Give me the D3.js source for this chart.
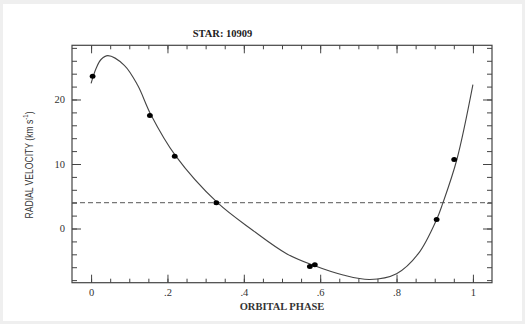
<!DOCTYPE html>
<html>
<head>
<meta charset="utf-8">
<script src="https://cdn.jsdelivr.net/npm/d3@7"></script>
<style>
    html, body { margin: 0; padding: 0; background: #efefef; }
    svg { display: block; }
</style>
</head>
<body>
<svg id="rvplot" width="525" height="324"></svg>
<script>
"use strict";

// Observed radial velocities (phase, km/s)
const obsPhase = [0.004, 0.154, 0.219, 0.328, 0.573, 0.586, 0.905, 0.951];
const obsVel   = [23.6, 17.5, 11.2, 4.0, -5.9, -5.6, 1.4, 10.7];

// Fitted orbit curve
const fitPhase = [0.0, 0.013, 0.026, 0.044, 0.087, 0.122, 0.157, 0.221, 0.331,
                  0.424, 0.512, 0.582, 0.660, 0.730, 0.800, 0.857, 0.905, 0.921, 0.958, 1.0];
const fitVel   = [22.5, 24.8, 26.2, 26.8, 25.3, 22.2, 17.6, 11.3, 4.0,
                  -0.3, -3.9, -5.7, -7.2, -7.9, -7.0, -3.9, 1.4, 3.9, 10.7, 22.3];

// Systemic velocity (dashed line)
const gammaVel = 4.0;

const xTickLabels = ["0", ".2", ".4", ".6", ".8", "1"];
const xMajor = [0, 0.2, 0.4, 0.6, 0.8, 1.0];
const yMajor = [0, 10, 20];
const title = "STAR: 10909";

let svg = d3.select("#rvplot");

// page frame
svg.append("rect")
    .attr("x", 3).attr("y", 4)
    .attr("width", 519).attr("height", 317)
    .attr("fill", "#fff");

// plot box
const pL = 72, pR = 492, pT = 45.3, pB = 282.7;

const x = d3.scaleLinear().domain([-0.05, 1.05]).range([pL, pR]);
const y = d3.scaleLinear().domain([-8.4, 28.4]).range([pB, pT]);

const xMinor = d3.range(0, 21).map((i) => i * 0.05);
const yMinor = d3.range(-4, 15).map((i) => i * 2);

function styleAxis(g) {
    g.select(".domain").remove();
    g.selectAll(".tick line").attr("stroke", "#444").attr("stroke-width", 1);
    g.selectAll("text")
        .attr("font-family", "'Liberation Serif', serif")
        .attr("font-size", 10.5)
        .attr("fill", "#333");
}

// bottom axis: minor then major with labels
svg.append("g")
    .attr("transform", `translate(0,${pB})`)
    .call(d3.axisBottom(x).tickValues(xMinor).tickSize(-4).tickFormat(""))
    .call(styleAxis);
svg.append("g")
    .attr("transform", `translate(0,${pB})`)
    .call(d3.axisBottom(x).tickValues(xMajor).tickSize(-8).tickPadding(6)
        .tickFormat((d, i) => xTickLabels[i]))
    .call(styleAxis);

// top axis
svg.append("g")
    .attr("transform", `translate(0,${pT})`)
    .call(d3.axisTop(x).tickValues(xMinor).tickSize(-4).tickFormat(""))
    .call(styleAxis);
svg.append("g")
    .attr("transform", `translate(0,${pT})`)
    .call(d3.axisTop(x).tickValues(xMajor).tickSize(-8).tickFormat(""))
    .call(styleAxis);

// left axis
svg.append("g")
    .attr("transform", `translate(${pL},0)`)
    .call(d3.axisLeft(y).tickValues(yMinor).tickSize(-5).tickFormat(""))
    .call(styleAxis);
svg.append("g")
    .attr("transform", `translate(${pL},0)`)
    .call(d3.axisLeft(y).tickValues(yMajor).tickSize(-9).tickPadding(7)
        .tickFormat(d3.format("d")))
    .call(styleAxis);

// right axis
svg.append("g")
    .attr("transform", `translate(${pR},0)`)
    .call(d3.axisRight(y).tickValues(yMinor).tickSize(-5).tickFormat(""))
    .call(styleAxis);
svg.append("g")
    .attr("transform", `translate(${pR},0)`)
    .call(d3.axisRight(y).tickValues(yMajor).tickSize(-9).tickFormat(""))
    .call(styleAxis);

// frame
svg.append("rect")
    .attr("x", pL).attr("y", pT)
    .attr("width", pR - pL).attr("height", pB - pT)
    .attr("fill", "none")
    .attr("stroke", "#444")
    .attr("stroke-width", 1.2);

// systemic velocity line
svg.append("line")
    .attr("x1", pL).attr("x2", pR)
    .attr("y1", y(gammaVel)).attr("y2", y(gammaVel))
    .attr("stroke", "#555")
    .attr("stroke-width", 1)
    .attr("stroke-dasharray", "5,3");

// fitted curve
let fit = fitPhase.map((p, i) => [p, fitVel[i]]);
svg.append("path")
    .datum(fit)
    .attr("fill", "none")
    .attr("stroke", "#444")
    .attr("stroke-width", 1.1)
    .attr("d", d3.line()
        .x((d) => x(d[0]))
        .y((d) => y(d[1]))
        .curve(d3.curveCatmullRom.alpha(0.5)));

// observations
let obs = obsPhase.map((p, i) => [p, obsVel[i]]);
svg.append("g")
    .selectAll("ellipse")
    .data(obs)
    .enter()
    .append("ellipse")
    .attr("cx", (d) => x(d[0]))
    .attr("cy", (d) => y(d[1]))
    .attr("rx", 2.9)
    .attr("ry", 2.5)
    .attr("fill", "#000");

// title and axis labels
svg.append("text")
    .attr("x", 222.5).attr("y", 36.5)
    .attr("text-anchor", "middle")
    .attr("font-family", "'Liberation Serif', serif")
    .attr("font-weight", "bold")
    .attr("font-size", 10.5)
    .attr("fill", "#222")
    .text(title);

svg.append("text")
    .attr("x", 282).attr("y", 310)
    .attr("text-anchor", "middle")
    .attr("font-family", "'Liberation Serif', serif")
    .attr("font-weight", "bold")
    .attr("font-size", 10.5)
    .attr("fill", "#333")
    .text("ORBITAL PHASE");

// y label is tall and narrow in the original
let ylab = svg.append("text")
    .attr("transform", "translate(33,165) rotate(-90) scale(0.86,1.15)")
    .attr("text-anchor", "middle")
    .attr("font-family", "'Liberation Sans', sans-serif")
    .attr("font-size", 10)
    .attr("fill", "#333");
ylab.append("tspan").text("RADIAL VELOCITY (km s");
ylab.append("tspan").attr("dy", -4).attr("font-size", 7).text("-1");
ylab.append("tspan").attr("dy", 4).text(")");
</script>
</body>
</html>
